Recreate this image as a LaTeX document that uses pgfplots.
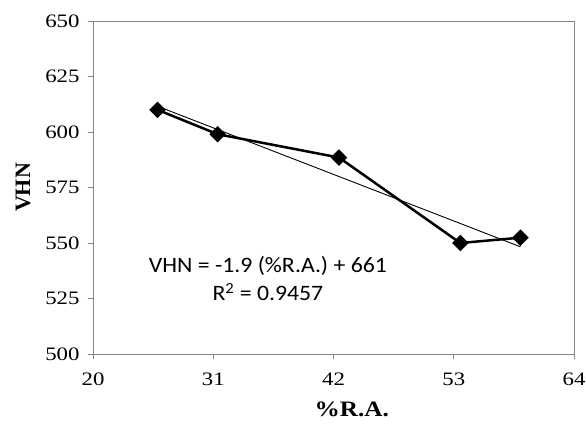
\documentclass[border=0pt]{standalone}
\usepackage{pgfplots}
\pgfplotsset{compat=1.18}
\usepackage{fontspec}
\setmainfont{Liberation Serif}
\newfontfamily\carlito{Carlito}
\definecolor{axgray}{RGB}{134,134,134}
\begin{document}
\begin{tikzpicture}[x=1pt,y=1pt]
\useasboundingbox (0,0) rectangle (586,425);
\begin{axis}[
  at={(93pt,71pt)}, anchor=south west,
  scale only axis, width=481pt, height=333pt,
  xmin=20, xmax=64, ymin=500, ymax=650,
  xtick={20,31,42,53,64}, ytick={500,525,...,650},
  axis line style={axgray, line width=0.8pt},
  tick style={axgray, line width=0.8pt},
  tick align=outside, major tick length=5pt,
  xtick pos=bottom, ytick pos=left,
  /pgf/number format/assume math mode=true,
  xticklabel={\scalebox{1.2}[1]{\pgfmathprintnumber{\tick}}},
  yticklabel={\scalebox{1.2}[1]{\pgfmathprintnumber{\tick}}},
  tick label style={font=\fontsize{19}{22}\selectfont},
  yticklabel style={xshift=-5pt},
  xticklabel style={yshift=-10pt},
  xlabel={\scalebox{1.15}[1]{\textbf{\%R.A.}}}, ylabel={\textbf{VHN}},
  label style={font=\fontsize{22}{24}\selectfont},
  xlabel style={at={(rel axis cs:0.538,-0.165)}, anchor=center},
  ylabel style={at={(rel axis cs:-0.1455,0.5)}, anchor=center},
  clip=false,
]
\addplot[black, line width=0.9pt, no marks] coordinates {(25.9,611.6) (59.1,548.3)};
\addplot[black, line width=2.5pt, mark=square*, mark size=4.6pt, mark options={solid, rotate=45}] coordinates {
(25.9,610) (31.4,599) (42.5,588.5) (53.6,550) (59.1,552.4)};
\node[font=\carlito\fontsize{22}{28}\selectfont, align=center] at (axis cs:36,533.8) {\scalebox{1.08}[1]{VHN = -1.9 (\%R.A.) + 661}\\\scalebox{1.08}[1]{R\textsuperscript{2} = 0.9457}};
\end{axis}
\end{tikzpicture}
\end{document}
